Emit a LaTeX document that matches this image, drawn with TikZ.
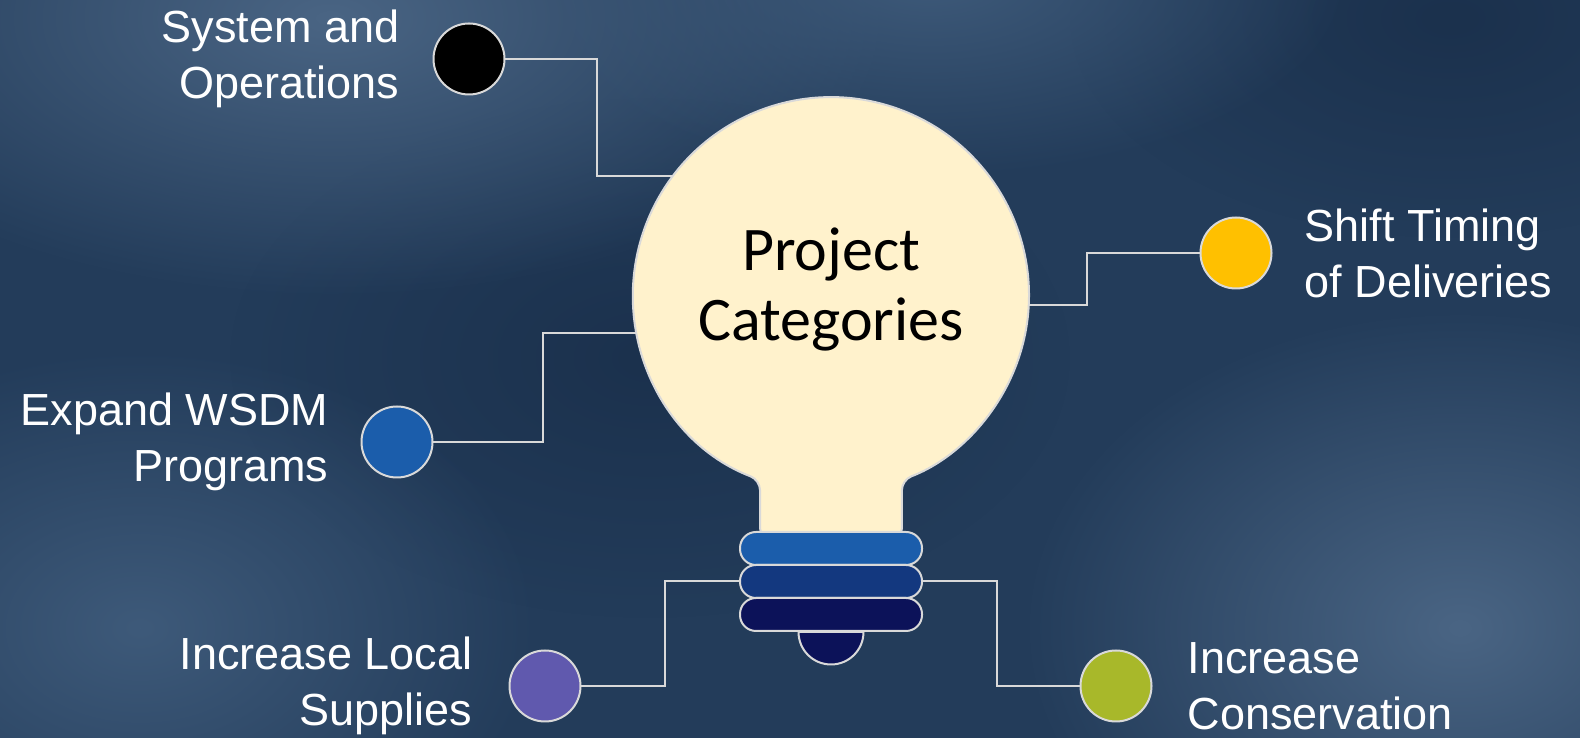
\documentclass[tikz,border=0pt]{standalone}
\usepackage{fontspec}
\setmainfont{Liberation Sans}
\newfontfamily\titlefont{Carlito}
\usetikzlibrary{positioning,fadings}
\definecolor{bgbase}{HTML}{233C5A}
\definecolor{bgdark}{HTML}{1B314D}
\definecolor{bglight}{HTML}{4A6584}
\definecolor{bgsoft}{HTML}{3E5A7A}
\definecolor{rimgray}{HTML}{D9D9D9}
\definecolor{bulbfill}{HTML}{FFF2CC}
\definecolor{ringA}{HTML}{1B5DAB}
\definecolor{ringB}{HTML}{13387F}
\definecolor{ringC}{HTML}{0C1259}
\definecolor{gold}{HTML}{FFC000}
\definecolor{violet}{HTML}{6059AE}
\definecolor{olive}{HTML}{A8B82A}
\tikzfading[name=glow, inner color=transparent!0, outer color=transparent!100]
\tikzset{%
  % Specifications for style of nodes:
         dot/.style = {circle, draw=rimgray, line width=2pt,
                       minimum size=71pt, inner sep=0pt, outer sep=0pt},
   leftlabel/.style = {text=white, align=right, inner sep=0pt,
                       font=\fontsize{45}{56}\selectfont},
  rightlabel/.style = {leftlabel, align=left},
        ring/.style = {rectangle, rounded corners=16pt, draw=rimgray,
                       line width=2pt, minimum width=182pt,
                       minimum height=33pt, inner sep=0pt, outer sep=0pt},
       globe/.style = {circle, minimum size=396pt, inner sep=0pt,
                       outer sep=0pt},
   titletext/.style = {align=center, text=black,
                       font=\titlefont\fontsize{62}{70}\selectfont},
        link/.style = {draw=rimgray, line width=2pt},
        haze/.style = {path fading=glow},
}
\begin{document}
\begin{tikzpicture}[x=1pt, y=1pt, node distance=33pt]
  \useasboundingbox (0,0) rectangle (1580,738);
  % Background
  \begin{scope}
    \clip (0,0) rectangle (1580,738);
    \fill[bgbase] (0,0) rectangle (1580,738);
    \fill[bgdark, haze] (1450,720) ellipse (380 and 220);
    \fill[bgdark, haze] (650,380) ellipse (420 and 260);
    \fill[bglight, haze] (330,720) ellipse (560 and 280);
    \fill[bgsoft, haze] (930,760) ellipse (420 and 200);
    \fill[bglight, haze] (1460,110) ellipse (440 and 320);
    \fill[bgsoft, haze] (140,110) ellipse (400 and 280);
  \end{scope}
  % The bulb
  \filldraw[fill=bulbfill, draw=rimgray, line width=2pt, rounded corners=10pt]
    (760,200) -- (760,258) arc[start angle=249, end angle=-69, radius=198]
    -- (902,200) -- cycle;
  \node (bulb) [globe] at (831,443) {};
  \node (title) [titletext] at ([yshift=5pt]bulb.center) {Project\\Categories};
  \filldraw[fill=ringC, draw=rimgray, line width=2pt]
    (798.5,106) arc[start angle=180, end angle=360, radius=32.5] -- cycle;
  \node (ring1) [ring, fill=ringA] at (831,189.5) {};
  \node (ring2) [ring, fill=ringB] at (831,156.5) {};
  \node (ring3) [ring, fill=ringC] at (831,123.5) {};
  % Category dots and their labels
  \node (sysop)   [dot, fill=black]  at (469,679)  {};
  \node (shift)   [dot, fill=gold]   at (1236,485) {};
  \node (wsdm)    [dot, fill=ringA]  at (397,296)  {};
  \node (local)   [dot, fill=violet] at (545,52)   {};
  \node (conserv) [dot, fill=olive]  at (1116,52)  {};
  \node (sysoptext)   [leftlabel, left=34pt of sysop]     {System and\\Operations};
  \node (shifttext)   [rightlabel, right=33pt of shift]   {Shift Timing\\of Deliveries};
  \node (wsdmtext)    [leftlabel, left=33pt of wsdm]      {Expand WSDM\\Programs};
  \node (localtext)   [leftlabel, left=37pt of local]     {Increase Local\\Supplies};
  \node (conservtext) [rightlabel, right=36pt of conserv] {Increase\\Conservation};
  % Connectors
  \draw[link] (sysop.east) -- (597,679) |- (bulb.143);
  \draw[link] (shift.west) -- (1087,485) |- (bulb.-3);
  \draw[link] (wsdm.east) -- (543,296) |- (bulb.191);
  \draw[link] (local.east) -- (665,52) |- (ring2.west);
  \draw[link] (conserv.west) -- (997,52) |- (ring2.east);
\end{tikzpicture}
\end{document}
